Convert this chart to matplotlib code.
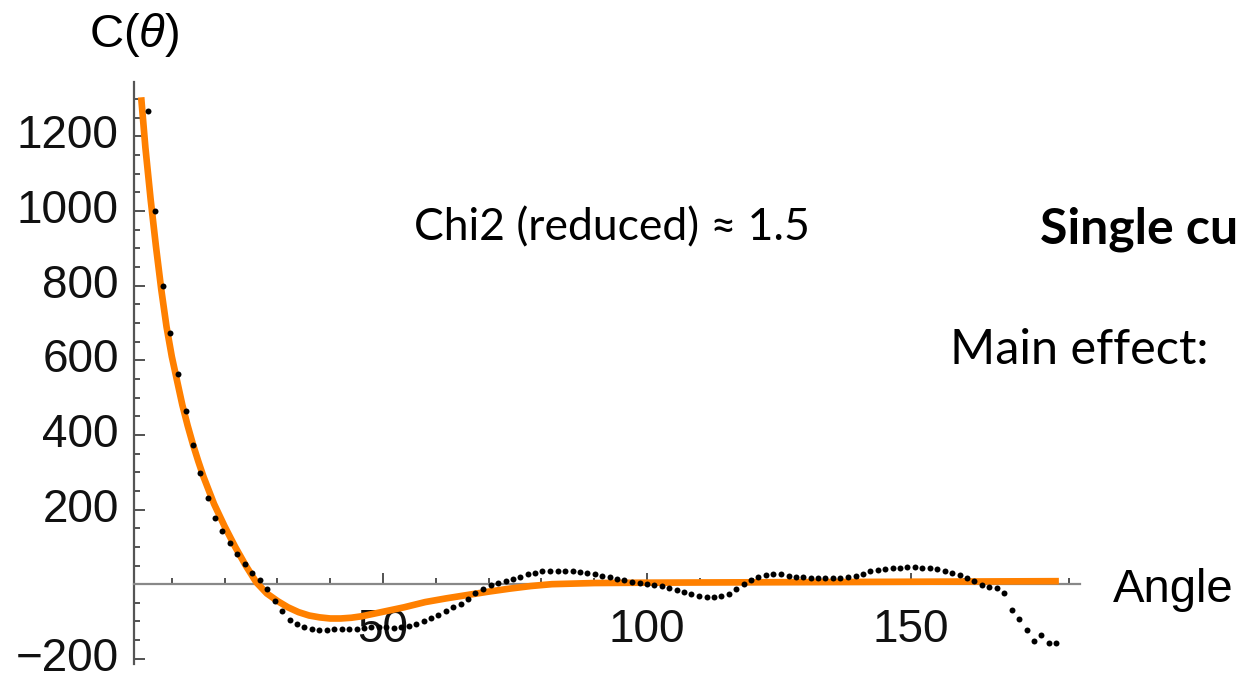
import matplotlib
matplotlib.use('Agg')
import matplotlib.pyplot as plt
from matplotlib.ticker import FixedLocator, MultipleLocator

# measured correlation C(theta), one point per angular bin
angle = [5.5, 6.9, 8.3, 9.7, 11.1, 12.6, 14.0, 15.4, 16.8, 18.2,
         19.6, 21.0, 22.4, 23.8, 25.2, 26.7, 28.1, 29.5, 30.9, 32.3,
         33.7, 35.1, 36.5, 37.9, 39.3, 40.8, 42.2, 43.6, 45.0, 46.4,
         47.8, 49.2, 50.6, 52.0, 53.4, 54.9, 56.3, 57.7, 59.1, 60.5,
         61.9, 63.3, 64.7, 66.1, 67.5, 69.0, 70.4, 71.8, 73.2, 74.6,
         76.0, 77.4, 78.8, 80.2, 81.6, 83.1, 84.5, 85.9, 87.3, 88.7,
         90.1, 91.5, 92.9, 94.3, 95.7, 97.2, 98.6, 100.0, 101.4, 102.8,
         104.2, 105.6, 107.0, 108.4, 109.8, 111.3, 112.7, 114.1, 115.5, 116.9,
         118.3, 119.7, 121.1, 122.5, 123.9, 125.4, 126.8, 128.2, 129.6, 131.0,
         132.4, 133.8, 135.2, 136.6, 138.0, 139.5, 140.9, 142.3, 143.7, 145.1,
         146.5, 147.9, 149.3, 150.7, 152.1, 153.6, 155.0, 156.4, 157.8, 159.2,
         160.6, 162.0, 163.4, 164.8, 166.2, 167.7, 169.1, 170.5, 171.9, 173.3,
         174.7, 176.1, 177.5]
c_data = [1267, 1000, 800, 674, 563, 463, 372, 298, 232, 177,
          143, 111, 80, 55, 30, 10, -14, -45, -72, -95,
          -108, -116, -120, -122, -122, -121, -120, -120, -119, -118,
          -116, -115, -116, -117, -116, -113, -108, -100, -92, -82,
          -72, -62, -52, -40, -25, -12, -3, 4, 9, 14,
          20, 26, 31, 35, 36, 36, 35, 34, 32, 30,
          26, 22, 18, 14, 10, 7, 4, 1, -2, -5,
          -10, -16, -22, -27, -31, -34, -35, -33, -26, -14,
          0, 12, 20, 25, 27, 26, 23, 20, 18, 17,
          16, 16, 16, 17, 18, 22, 28, 34, 38, 41,
          43, 44, 45, 45, 44, 42, 40, 36, 30, 24,
          16, 9, -3, -7, -10, -25, -68, -94, -124, -152,
          -137, -158, -158]

# fitted curve
fit_angle = [4.2, 5, 6, 7, 8, 9, 10, 11, 12, 13, 14, 15, 16, 18, 20, 22, 24, 26,
             28, 30, 32, 34, 36, 38, 40, 42, 44, 46, 48, 50, 54, 58, 62, 66,
             70, 74, 78, 82, 90, 100, 120, 140, 160, 178]
fit_c = [1305, 1170, 1030, 905, 790, 690, 610, 545, 480, 425, 375, 330, 288, 215,
         155, 100, 50, 5, -25, -45, -62, -75, -84, -89, -92, -92, -90, -86, -80,
         -74, -62, -48, -38, -29, -20, -12, -5, 0, 3, 4, 5, 6, 7, 8]

y_ticks = [-200, 200, 400, 600, 800, 1000, 1200]
x_ticks = [50, 100, 150]

plt.rcParams['font.family'] = ['Liberation Sans', 'DejaVu Sans']
plt.rcParams['mathtext.fontset'] = 'custom'
plt.rcParams['mathtext.rm'] = 'Liberation Sans'
plt.rcParams['mathtext.it'] = 'Liberation Sans:italic'

W, H = 1237, 679
fig = plt.figure(figsize=(W / 100, H / 100), dpi=100)
ax = fig.add_axes([134 / W, (H - 664) / H, 946 / W, 582 / H])

ax.plot(fit_angle, fit_c, color='#ff8000', lw=4.8, solid_capstyle='butt', zorder=3)
ax.plot(angle, c_data, ls='none', marker='o', ms=4.3, color='black',
        markeredgewidth=0, zorder=4)

ax.set_xlim(2.84, 182.0)
ax.set_ylim(-214, 1346)

for s in ['top', 'right']:
    ax.spines[s].set_visible(False)
ax.spines['bottom'].set_position(('data', 0))
ax.spines['bottom'].set_color('#888888')
ax.spines['left'].set_color('#555555')
ax.spines['bottom'].set_linewidth(1.6)
ax.spines['left'].set_linewidth(1.6)

ax.yaxis.set_major_locator(FixedLocator(y_ticks))
ax.yaxis.set_minor_locator(MultipleLocator(50))
ax.xaxis.set_major_locator(FixedLocator(x_ticks))
ax.xaxis.set_minor_locator(MultipleLocator(10))
ax.tick_params(which='both', direction='in', color='#444444', width=1.3,
               labelsize=33, labelcolor='#111111')
ax.tick_params(which='major', length=8)
ax.tick_params(which='minor', length=4.5)
ax.tick_params(axis='y', pad=11)
ax.tick_params(axis='x', pad=17)
for lab in ax.get_yticklabels():
    lab.set_verticalalignment('center')

ax.text(1.035, -48, 'Angle', transform=ax.get_yaxis_transform(),
        fontsize=34, ha='left', va='baseline')
fig.text(134 / W, 1 - 35 / H, r'C($\theta$)', fontsize=34, ha='center', va='center')

fig.text(414 / W, 1 - 228 / H, 'Chi2 (reduced) \u2248 1.5', family='Lato',
         fontsize=32, ha='left', va='center')
fig.text(1040 / W, 1 - 229 / H, 'Single cuts', family='Lato', weight='bold',
         fontsize=36, ha='left', va='center')
fig.text(950 / W, 1 - 350 / H, 'Main effect:', family='Lato',
         fontsize=35, ha='left', va='center')

fig.savefig('out.png', dpi=100)
